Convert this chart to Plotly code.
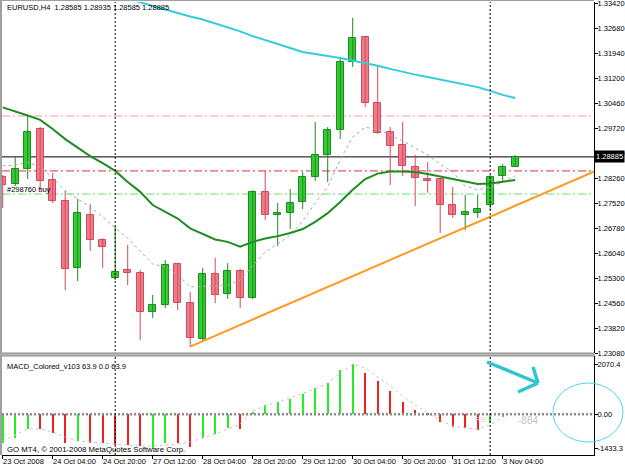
import plotly.graph_objects as go

# ---------------- data (H4 bars, index 0 = 23 Oct 2008 12:00) ----------------
bar_index = list(range(42))
opens = [1.2829, 1.2808, 1.2853, 1.2971, 1.2820, 1.2758, 1.2560, 1.2716, 1.2642, 1.2530,
         1.2554, 1.2545, 1.2429, 1.2450, 1.2571, 1.2456, 1.2349, 1.2542, 1.2483, 1.2551,
         1.2471, 1.2785, 1.2716, 1.2722, 1.2755, 1.2829, 1.2894, 1.2968, 1.3169, 1.3243,
         1.3048, 1.2962, 1.2924, 1.2859, 1.2823, 1.2823, 1.2746, 1.2716, 1.2722, 1.2746,
         1.2832, 1.28585]
highs = [1.2835, 1.2891, 1.3012, 1.2977, 1.2841, 1.2788, 1.2764, 1.2749, 1.2648, 1.2684,
         1.2628, 1.2554, 1.2480, 1.2583, 1.2574, 1.2489, 1.2560, 1.2589, 1.2574, 1.2557,
         1.2790, 1.2847, 1.2752, 1.2793, 1.2844, 1.2992, 1.2977, 1.3184, 1.3300, 1.3245,
         1.3160, 1.2977, 1.2992, 1.2894, 1.2873, 1.2823, 1.2799, 1.2776, 1.2776, 1.2835,
         1.2867, 1.28935]
lows = [1.2737, 1.2802, 1.2823, 1.2790, 1.2752, 1.2494, 1.2521, 1.2610, 1.2560, 1.2524,
        1.2509, 1.2346, 1.2412, 1.2441, 1.2435, 1.2326, 1.2341, 1.2456, 1.2468, 1.2441,
        1.2468, 1.2702, 1.2625, 1.2675, 1.2734, 1.2817, 1.2814, 1.2941, 1.3155, 1.3036,
        1.2957, 1.2805, 1.2832, 1.2743, 1.2782, 1.2663, 1.2708, 1.2672, 1.2708, 1.2731,
        1.2814, 1.28585]
closes = [1.2805, 1.2853, 1.2962, 1.2817, 1.2758, 1.2557, 1.2722, 1.2642, 1.2622, 1.2548,
          1.2545, 1.2429, 1.2450, 1.2568, 1.2456, 1.2352, 1.2542, 1.2480, 1.2551, 1.2471,
          1.2785, 1.2716, 1.2722, 1.2752, 1.2829, 1.2894, 1.2968, 1.3169, 1.3240, 1.3048,
          1.2959, 1.2921, 1.2862, 1.2826, 1.2817, 1.2746, 1.2716, 1.2725, 1.2734, 1.2829,
          1.28585, 1.28885]

ma_cyan = [1.3476, 1.3464, 1.3452, 1.3440, 1.3428, 1.3417, 1.3405, 1.3393, 1.3381, 1.3369,
           1.3357, 1.3346, 1.3335, 1.3324, 1.3313, 1.3304, 1.3295, 1.3284, 1.3273, 1.3260,
           1.3246, 1.3235, 1.3223, 1.3211, 1.3199, 1.3192, 1.3187, 1.3181, 1.3174, 1.3166,
           1.3158, 1.3149, 1.3140, 1.3132, 1.3125, 1.3118, 1.3110, 1.3103, 1.3095, 1.3084,
           1.3072, 1.3063]
ma_green = [1.3035, 1.3024, 1.3011, 1.2998, 1.2971, 1.2941, 1.2915, 1.2891, 1.2870, 1.2847,
            1.2814, 1.2785, 1.2746, 1.2725, 1.2706, 1.2677, 1.2660, 1.2644, 1.2637, 1.2623,
            1.2637, 1.2647, 1.2654, 1.2663, 1.2675, 1.2696, 1.2722, 1.2755, 1.2791, 1.2823,
            1.2839, 1.2845, 1.2845, 1.2844, 1.2838, 1.2830, 1.2823, 1.2814, 1.2808, 1.2810,
            1.2814, 1.2820]
ma_gray = [1.2862, 1.2864, 1.2873, 1.2859, 1.2826, 1.2788, 1.2764, 1.2740, 1.2711, 1.2678,
           1.2648, 1.2610, 1.2571, 1.2563, 1.2539, 1.2504, 1.2504, 1.2506, 1.2509, 1.2524,
           1.2566, 1.2607, 1.2631, 1.2657, 1.2699, 1.2752, 1.2800, 1.2880, 1.2947, 1.2976,
           1.2971, 1.2953, 1.2936, 1.2915, 1.2894, 1.2867, 1.2844, 1.2802, 1.2791, 1.2799,
           1.2814, 1.2832]

trend_bars = [15, 50]
trend_prices = [1.2327, 1.2888]

order_levels = [1.30095, 1.2847, 1.27786]          # pink, red, green dash-dot lines
order_colors = ["#F49A9A", "#E03030", "#66DD66"]
y_ticks = [1.23080, 1.23820, 1.24560, 1.25300, 1.26040, 1.26780, 1.27520, 1.28260,
           1.28980, 1.29720, 1.30460, 1.31200, 1.31940, 1.32680, 1.33420]

macd_hist = [-1204, -996, -610, -625, -789, -1204, -1108, -1179, -1210, -1274,
             -1280, -1316, -1433.3, -1204, -1210, -1345, -996, -830, -581, -590,
             108, 386, 523, 623, 842, 1079, 1287, 1838, 2070.4, 1702,
             1394, 979, 523, 178, 41, -307, -515, -581, -652, -349,
             -100, 63.9]
macd_up = [1, 1, 1, 0, 0, 0, 1, 0, 0, 0,
           0, 0, 1, 1, 0, 0, 1, 1, 1, 0,
           1, 1, 1, 1, 1, 1, 1, 1, 1, 0,
           0, 0, 0, 0, 0, 0, 0, 0, 0, 1,
           1, 1]
macd_signal = [-1108, -859, -610, -610, -735, -942, -1108, -1150, -1191, -1233,
               -1274, -1316, -1316, -1274, -1233, -1150, -984, -818, -610, -403,
               137, 344, 510, 676, 863, 1050, 1299, 1714, 2070, 1921,
               1548, 1174, 759, 386, 54, -237, -486, -569, -610, -444,
               -112]
macd_ticks = [-1433.3, 0, 2070.4]
macd_ticktext = ["-1433.3", "0.00", "2070.4"]

separator_bars = [9, 39]
xtick_bars = [0, 4, 8, 12, 16, 20, 24, 28, 32, 36, 40]
xtick_labels = ["23 Oct 2008", "24 Oct 04:00", "24 Oct 20:00", "27 Oct 12:00", "28 Oct 04:00",
                "28 Oct 20:00", "29 Oct 12:00", "30 Oct 04:00", "30 Oct 20:00", "31 Oct 12:00",
                "3 Nov 04:00"]

# ---------------- layout helpers (pixel -> paper) ----------------
W, H = 625, 469
LP, RP, TP, BP = 2, 594, 2, 455
BAR0, STEP = 2.7, 12.5


def px(x):
    return (x - LP) / (RP - LP)


def py(y):
    return (BP - y) / (BP - TP)


FONT = "Liberation Sans"
G_FILL, G_LINE = "#33CC33", "#1F8A1F"
R_FILL, R_LINE = "#F07B88", "#D24A5C"

fig = go.Figure()

# wicks
for up, col in ((True, G_LINE), (False, R_LINE)):
    xs, ys = [], []
    for i in bar_index:
        if (closes[i] >= opens[i]) == up:
            xs += [i, i, None]
            ys += [lows[i], highs[i], None]
    fig.add_trace(go.Scatter(x=xs, y=ys, mode="lines", line=dict(color=col, width=1),
                             xaxis="x", yaxis="y", hoverinfo="skip"))

# bodies
for up, fill, col in ((True, G_FILL, G_LINE), (False, R_FILL, R_LINE)):
    idx = [i for i in bar_index if (closes[i] >= opens[i]) == up]
    fig.add_trace(go.Bar(x=idx,
                         y=[max(abs(closes[i] - opens[i]), 0.0003) for i in idx],
                         base=[min(opens[i], closes[i]) for i in idx],
                         width=0.58, marker=dict(color=fill, line=dict(color=col, width=1)),
                         xaxis="x", yaxis="y", hoverinfo="skip"))

# moving averages & trendline
fig.add_trace(go.Scatter(x=bar_index, y=ma_gray, mode="lines",
                         line=dict(color="#A8A8A8", width=1, dash="3px,3px"), xaxis="x", yaxis="y"))
fig.add_trace(go.Scatter(x=bar_index, y=ma_green, mode="lines",
                         line=dict(color="#1E8C1E", width=2), xaxis="x", yaxis="y"))
fig.add_trace(go.Scatter(x=bar_index, y=ma_cyan, mode="lines",
                         line=dict(color="#33CCDD", width=2), xaxis="x", yaxis="y"))
fig.add_trace(go.Scatter(x=trend_bars, y=trend_prices, mode="lines",
                         line=dict(color="#FF9922", width=2), xaxis="x", yaxis="y"))

# MACD
fig.add_trace(go.Bar(x=bar_index, y=macd_hist, width=0.16,
                     marker=dict(color=["#22EE22" if u else "#EE2020" for u in macd_up], line=dict(width=0)),
                     xaxis="x2", yaxis="y2", hoverinfo="skip"))
fig.add_trace(go.Scatter(x=bar_index[:len(macd_signal)], y=macd_signal, mode="lines",
                         line=dict(color="#C8C8C8", width=1, dash="3px,3px"), xaxis="x2", yaxis="y2"))

shapes = []
for lvl, col in zip(order_levels, order_colors):
    shapes.append(dict(type="line", xref="x domain", yref="y", x0=0, x1=1, y0=lvl, y1=lvl,
                       line=dict(color=col, width=1, dash="8px,3px,2px,3px"), layer="below"))
shapes.append(dict(type="line", xref="x domain", yref="y", x0=0, x1=1, y0=closes[-1], y1=closes[-1],
                   line=dict(color="#000000", width=1), layer="below"))
shapes.append(dict(type="line", xref="x2 domain", yref="y2", x0=0, x1=1, y0=0, y1=0,
                   line=dict(color="#8C8C8C", width=2.5, dash="2px,2px")))
for b in separator_bars:
    shapes.append(dict(type="line", xref="x", yref="paper", x0=b, x1=b, y0=0, y1=1,
                       line=dict(color="#000000", width=1, dash="2px,2px")))
# panel separator band
shapes.append(dict(type="rect", xref="paper", yref="paper", x0=px(0), x1=px(RP), y0=py(356), y1=py(353),
                   fillcolor="#B8B8B8", line=dict(color="#888888", width=1)))
# frame
shapes.append(dict(type="line", xref="paper", yref="paper", x0=px(1), x1=px(1), y0=py(BP), y1=py(0),
                   line=dict(color="#A0A0A0", width=2)))
shapes.append(dict(type="line", xref="paper", yref="paper", x0=px(0), x1=px(RP), y0=py(0.5), y1=py(0.5),
                   line=dict(color="#A0A0A0", width=1)))
# cyan hand-drawn arrow and circle
cy = "#2EC4D2"
shapes.append(dict(type="line", xref="paper", yref="paper", x0=px(487), y0=py(362), x1=px(538), y1=py(383),
                   line=dict(color=cy, width=3.5)))
shapes.append(dict(type="line", xref="paper", yref="paper", x0=px(533), y0=py(367), x1=px(538), y1=py(383),
                   line=dict(color=cy, width=3.5)))
shapes.append(dict(type="line", xref="paper", yref="paper", x0=px(518), y0=py(392), x1=px(538), y1=py(383),
                   line=dict(color=cy, width=3.5)))
shapes.append(dict(type="circle", xref="paper", yref="paper", x0=px(553), x1=px(623), y0=py(442), y1=py(383),
                   line=dict(color="#55D4E4", width=1)))

tf = dict(family=FONT, size=7.5, color="#000000")
tick_font = dict(family=FONT, size=7.5, color="#000000")
xtick_font = dict(family=FONT, size=7.5, color="#000000")
annotations = [
    dict(xref="paper", yref="paper", x=px(5), y=py(8), xanchor="left", yanchor="middle", showarrow=False,
         text=f"EURUSD,H4  {opens[-1]:.5f} {highs[-1]:.5f} {lows[-1]:.5f} {closes[-1]:.5f}", font=tf),
    dict(xref="paper", yref="paper", x=px(5), y=py(189), xanchor="left", yanchor="middle", showarrow=False,
         text="#298760 buy", font=tf),
    dict(xref="paper", yref="paper", x=px(5), y=py(366), xanchor="left", yanchor="middle", showarrow=False,
         text="MACD_Colored_v103 63.9 0.0 63.9", font=tf),
    dict(xref="paper", yref="paper", x=px(5), y=py(449), xanchor="left", yanchor="middle", showarrow=False,
         text="GO MT4, © 2001-2008 MetaQuotes Software Corp.", font=dict(family=FONT, size=7.8, color="#000000")),
    dict(xref="paper", yref="paper", x=px(516), y=py(420), xanchor="left", yanchor="middle", showarrow=False,
         text="-884", font=dict(family=FONT, size=10, color="#C4C4C4")),
    dict(xref="paper", yref="paper", x=px(473), y=py(419), xanchor="left", yanchor="middle", showarrow=False,
         text="RB", font=dict(family=FONT, size=8, color="#D8D8D8")),
    dict(xref="paper", yref="y", x=1, y=closes[-1], xanchor="left", yanchor="middle", showarrow=False,
         text=f"{closes[-1]:.5f}", bgcolor="#000000", borderpad=1,
         font=dict(family=FONT, size=7.5, color="#FFFFFF")),
]
# time-axis labels, left-aligned just right of each tick (MT4 style)
for b, lab in zip(xtick_bars, xtick_labels):
    annotations.append(dict(xref="x2", yref="paper", x=b, y=py(461.5), xanchor="left", yanchor="middle",
                            xshift=-1, showarrow=False, text=lab, font=xtick_font, borderpad=0))

x_range = [(LP - BAR0) / STEP, (RP - BAR0) / STEP]
main_low = y_ticks[0]
main_high = main_low + (353 - TP) * 0.000296
macd_scale = 41.5
macd_range = [-(BP - 414.3) * macd_scale, (414.3 - 356) * macd_scale]

fig.update_layout(
    template="none",
    width=W, height=H, autosize=False,
    margin=dict(l=LP, r=W - RP, t=TP, b=H - BP, pad=0),
    paper_bgcolor="#FFFFFF", plot_bgcolor="#FFFFFF",
    showlegend=False, barmode="overlay", bargap=0,
    font=tf,
    xaxis=dict(domain=[0, 1], range=x_range, anchor="y", showticklabels=False, ticks="",
               showgrid=False, zeroline=False, showline=False, automargin=False),
    xaxis2=dict(domain=[0, 1], range=x_range, matches="x", anchor="y2", showgrid=False, zeroline=False,
                showline=True, linecolor="#000000", linewidth=1,
                tickmode="array", tickvals=xtick_bars, showticklabels=False,
                ticks="outside", ticklen=3, tickcolor="#000000", automargin=False),
    yaxis=dict(domain=[py(353), 1], range=[main_low, main_high], anchor="x", side="right",
               tickmode="array", tickvals=y_ticks, tickformat=".5f", ticks="outside", ticklen=3,
               tickcolor="#000000", showline=True, linecolor="#000000", linewidth=1,
               showgrid=False, zeroline=False, tickfont=tick_font, automargin=False,
               ticklabelstandoff=-2, ticklabeloverflow="allow"),
    yaxis2=dict(domain=[0, py(356)], range=macd_range, anchor="x2", side="right",
                tickmode="array", tickvals=macd_ticks, ticktext=macd_ticktext, ticks="outside", ticklen=3,
                tickcolor="#000000", showline=True, linecolor="#000000", linewidth=1,
                showgrid=False, zeroline=False, tickfont=tick_font, automargin=False,
                ticklabelstandoff=-2, ticklabeloverflow="allow"),
    shapes=shapes, annotations=annotations,
)

fig.write_html("out.html")
